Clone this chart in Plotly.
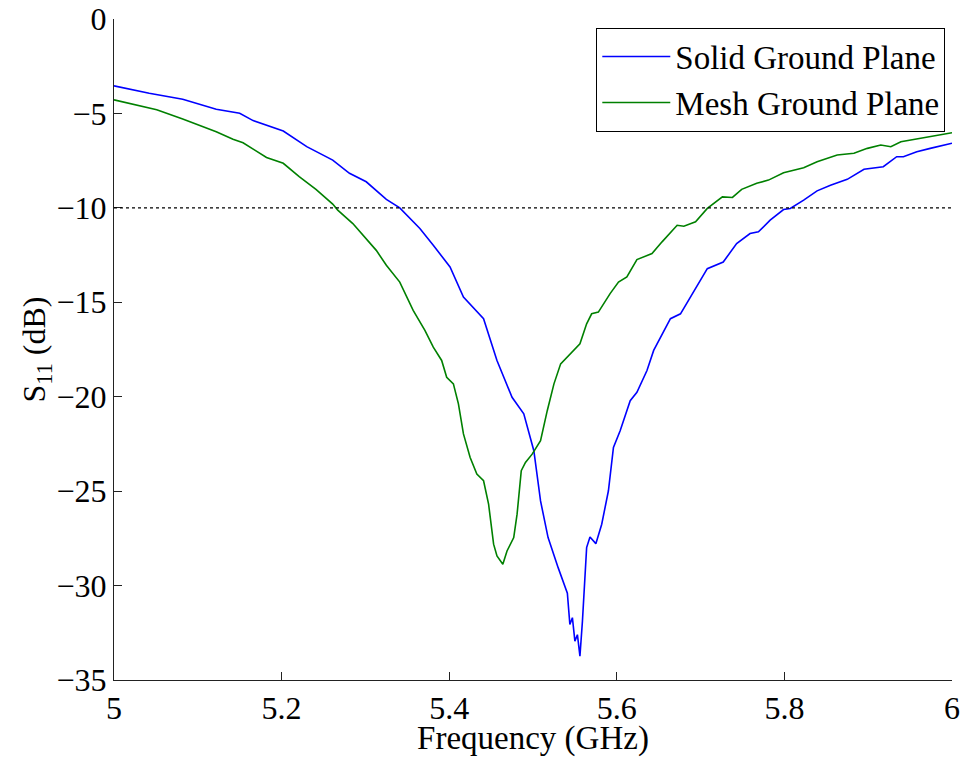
import plotly.graph_objects as go

# Solid ground plane S11 (GHz, dB)
solid_f = [5.000, 5.042, 5.082, 5.122, 5.150, 5.166, 5.202, 5.230, 5.261, 5.281, 5.301, 5.325,
           5.341, 5.365, 5.381, 5.401, 5.417, 5.441, 5.457, 5.475, 5.489, 5.501, 5.509, 5.518,
           5.530, 5.538, 5.541, 5.544, 5.547, 5.550, 5.553, 5.556, 5.559, 5.564, 5.568, 5.575,
           5.582, 5.590, 5.596, 5.604, 5.616, 5.624, 5.636, 5.644, 5.656, 5.664, 5.676, 5.688,
           5.708, 5.727, 5.743, 5.759, 5.769, 5.783, 5.799, 5.807, 5.823, 5.839, 5.855, 5.875,
           5.895, 5.918, 5.934, 5.942, 5.958, 5.974, 6.000]
solid_db = [-3.54, -3.93, -4.25, -4.78, -4.99, -5.38, -5.93, -6.76, -7.47, -8.17, -8.62, -9.55,
            -10.00, -11.09, -11.98, -13.13, -14.72, -15.87, -18.08, -20.03, -20.91, -22.86, -25.52, -27.46,
            -29.05, -30.12, -30.4, -32.06, -31.7, -32.94, -32.6, -33.74, -31.88, -27.99, -27.43, -27.78,
            -26.75, -24.98, -22.69, -21.80, -20.21, -19.77, -18.61, -17.55, -16.49, -15.87, -15.61, -14.72,
            -13.22, -12.87, -11.89, -11.36, -11.27, -10.65, -10.09, -10.03, -9.59, -9.10, -8.80, -8.49,
            -7.96, -7.82, -7.29, -7.29, -7.03, -6.85, -6.58]

# Mesh ground plane S11 (GHz, dB)
mesh_f = [5.000, 5.023, 5.051, 5.082, 5.102, 5.122, 5.142, 5.154, 5.182, 5.202, 5.221, 5.241,
          5.261, 5.267, 5.285, 5.297, 5.313, 5.325, 5.341, 5.357, 5.371, 5.381, 5.391, 5.397,
          5.405, 5.411, 5.417, 5.425, 5.433, 5.441, 5.447, 5.453, 5.457, 5.464, 5.469, 5.477,
          5.481, 5.486, 5.491, 5.499, 5.509, 5.517, 5.525, 5.533, 5.541, 5.556, 5.564, 5.570,
          5.578, 5.592, 5.602, 5.612, 5.624, 5.642, 5.654, 5.672, 5.680, 5.694, 5.708, 5.726,
          5.738, 5.749, 5.767, 5.781, 5.799, 5.823, 5.839, 5.863, 5.883, 5.899, 5.915, 5.927,
          5.939, 5.955, 5.978, 6.000]
mesh_db = [-4.28, -4.51, -4.81, -5.29, -5.61, -5.97, -6.37, -6.55, -7.33, -7.64, -8.35, -9.02,
           -9.80, -10.12, -10.83, -11.45, -12.25, -13.04, -13.93, -15.43, -16.49, -17.38, -18.08, -18.97,
           -19.32, -20.38, -21.97, -23.22, -24.10, -24.45, -25.69, -27.81, -28.43, -28.87, -28.17, -27.46,
           -26.22, -23.92, -23.48, -23.04, -22.33, -20.74, -19.32, -18.26, -17.91, -17.20, -16.14, -15.61,
           -15.52, -14.54, -13.93, -13.66, -12.74, -12.42, -11.80, -10.92, -10.97, -10.74, -10.03, -9.42,
           -9.45, -9.02, -8.70, -8.53, -8.14, -7.88, -7.56, -7.20, -7.11, -6.85, -6.67, -6.76,
           -6.50, -6.37, -6.19, -6.02]

THRESHOLD_DB = -10

x_ticks = [5, 5.2, 5.4, 5.6, 5.8, 6]
x_ticklabels = ["5", "5.2", "5.4", "5.6", "5.8", "6"]
y_ticks = [0, -5, -10, -15, -20, -25, -30, -35]
y_ticklabels = ["0", "\u22125", "\u221210", "\u221215", "\u221220", "\u221225", "\u221230", "\u221235"]

FONT = "Liberation Serif, Times New Roman, serif"

fig = go.Figure()
fig.add_trace(go.Scatter(x=solid_f, y=solid_db, mode="lines", name="Solid Ground Plane",
                         line=dict(color="#0000ff", width=1.6)))
fig.add_trace(go.Scatter(x=mesh_f, y=mesh_db, mode="lines", name="Mesh Ground Plane",
                         line=dict(color="#008000", width=1.6)))
fig.add_hline(y=THRESHOLD_DB, line=dict(color="black", width=1.3, dash="dot"))

fig.update_layout(
    width=964, height=757,
    margin=dict(l=114, r=12, t=19, b=77, autoexpand=False),
    paper_bgcolor="white", plot_bgcolor="white",
    font=dict(family=FONT, size=32, color="black"),
    showlegend=True,
    legend=dict(x=0.992, y=0.987, xanchor="right", yanchor="top",
                bgcolor="white", bordercolor="black", borderwidth=1,
                itemwidth=68,
                font=dict(family=FONT, size=33, color="black")),
)
fig.update_xaxes(range=[5, 6], tickvals=x_ticks, ticktext=x_ticklabels,
                 automargin=False, ticklabeloverflow="allow",
                 showline=True, linecolor="#222", linewidth=1, mirror=False,
                 ticks="inside", ticklen=8, tickcolor="#222",
                 showgrid=False, zeroline=False,
                 title=dict(text="Frequency (GHz)", standoff=0,
                            font=dict(family=FONT, size=33)),
                 tickfont=dict(family=FONT, size=32))
fig.update_yaxes(range=[-35, 0], tickvals=y_ticks, ticktext=y_ticklabels,
                 automargin=False, ticklabeloverflow="allow",
                 showline=True, linecolor="#222", linewidth=1, mirror=False,
                 ticks="inside", ticklen=8, tickcolor="#222",
                 showgrid=False, zeroline=False,
                 title=dict(text="S<sub>11</sub> (dB)", standoff=0,
                            font=dict(family=FONT, size=32)),
                 tickfont=dict(family=FONT, size=32))

fig.write_html("out.html", config={"displayModeBar": False},
               post_script="document.body.style.margin='0';document.body.style.overflow='hidden';")
